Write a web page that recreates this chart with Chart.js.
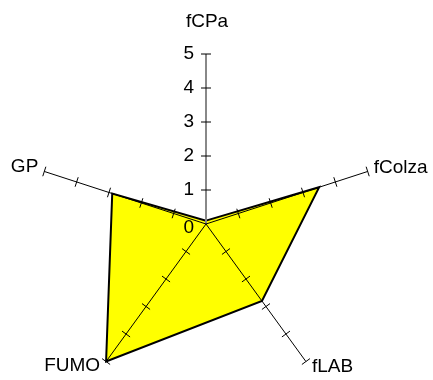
<!DOCTYPE html>
<html>
<head>
<meta charset="utf-8">
<script src="https://cdn.jsdelivr.net/npm/chart.js@4"></script>
<style>
  body { margin: 0; background: #fff; }
  #wrap { width: 433px; height: 380px; position: relative; }
</style>
</head>
<body>
<div id="wrap"><canvas id="radarChart"></canvas></div>
<script>
// Données du graphique
const axes = ['fCPa', 'fColza', 'fLAB', 'FUMO', 'GP'];
const valeurs = [0.1, 3.5, 2.8, 5, 2.9];
const graduations = [0, 1, 2, 3, 4, 5];

const police = '19px Arial, "Liberation Sans", sans-serif';

// Axes, graduations et libellés dessinés par-dessus le remplissage
const decorRadar = {
    id: 'decorRadar',
    afterLayout(chart) {
        const r = chart.scales.r;
        r.xCenter = 206;
        r.yCenter = 224;
        r.drawingArea = 170;
    },
    afterDatasetsDraw(chart) {
        const r = chart.scales.r;
        const ctx = chart.ctx;
        const maxVal = graduations[graduations.length - 1];
        ctx.save();

        axes.forEach((nom, i) => {
            const fin = r.getPointPositionForValue(i, maxVal);
            ctx.beginPath();
            ctx.moveTo(r.xCenter, r.yCenter);
            ctx.lineTo(fin.x, fin.y);
            ctx.strokeStyle = i === 0 ? '#888888' : '#000000';
            ctx.lineWidth = i === 0 ? 2 : 1;
            ctx.stroke();

            // petites graduations perpendiculaires
            const a = r.getIndexAngle(i) - Math.PI / 2;
            const px = -Math.sin(a), py = Math.cos(a);
            ctx.strokeStyle = '#000000';
            ctx.lineWidth = 1;
            graduations.slice(1).forEach(v => {
                const p = r.getPointPositionForValue(i, v);
                ctx.beginPath();
                ctx.moveTo(p.x - 5 * px, p.y - 5 * py);
                ctx.lineTo(p.x + 5 * px, p.y + 5 * py);
                ctx.stroke();
            });

            // libellé de l'axe
            ctx.fillStyle = '#000000';
            ctx.font = police;
            if (fin.x > r.xCenter + 10) {
                ctx.textAlign = 'left';
                ctx.textBaseline = 'middle';
                ctx.fillText(nom, fin.x + 6, fin.y + (fin.y > r.yCenter ? 5 : -4));
            } else if (fin.x < r.xCenter - 10) {
                ctx.textAlign = 'right';
                ctx.textBaseline = 'middle';
                ctx.fillText(nom, fin.x - 6, fin.y + (fin.y > r.yCenter ? 4 : -5));
            } else {
                ctx.textAlign = 'center';
                ctx.textBaseline = 'alphabetic';
                ctx.fillText(nom, fin.x + 1, fin.y - 27);
            }
        });

        // valeurs de l'échelle à gauche de l'axe vertical
        ctx.textAlign = 'right';
        ctx.textBaseline = 'middle';
        ctx.font = police;
        ctx.fillStyle = '#000000';
        graduations.forEach(v => {
            const p = r.getPointPositionForValue(0, v);
            ctx.fillText(String(v), p.x - 12, p.y + (v === 0 ? 4 : 0));
        });

        ctx.restore();
    }
};

new Chart(document.getElementById('radarChart'), {
    type: 'radar',
    data: {
        labels: axes,
        datasets: [{
            data: valeurs,
            backgroundColor: '#FFFF00',
            borderColor: '#000000',
            borderWidth: 2,
            fill: true,
            pointRadius: 0,
            pointHoverRadius: 0
        }]
    },
    options: {
        responsive: true,
        maintainAspectRatio: false,
        animation: false,
        plugins: {
            legend: { display: false },
            tooltip: { enabled: false }
        },
        scales: {
            r: {
                min: 0,
                max: 5,
                ticks: { display: false, stepSize: 1 },
                grid: { display: false },
                angleLines: { display: false },
                pointLabels: { display: false }
            }
        }
    },
    plugins: [decorRadar]
});
</script>
</body>
</html>
